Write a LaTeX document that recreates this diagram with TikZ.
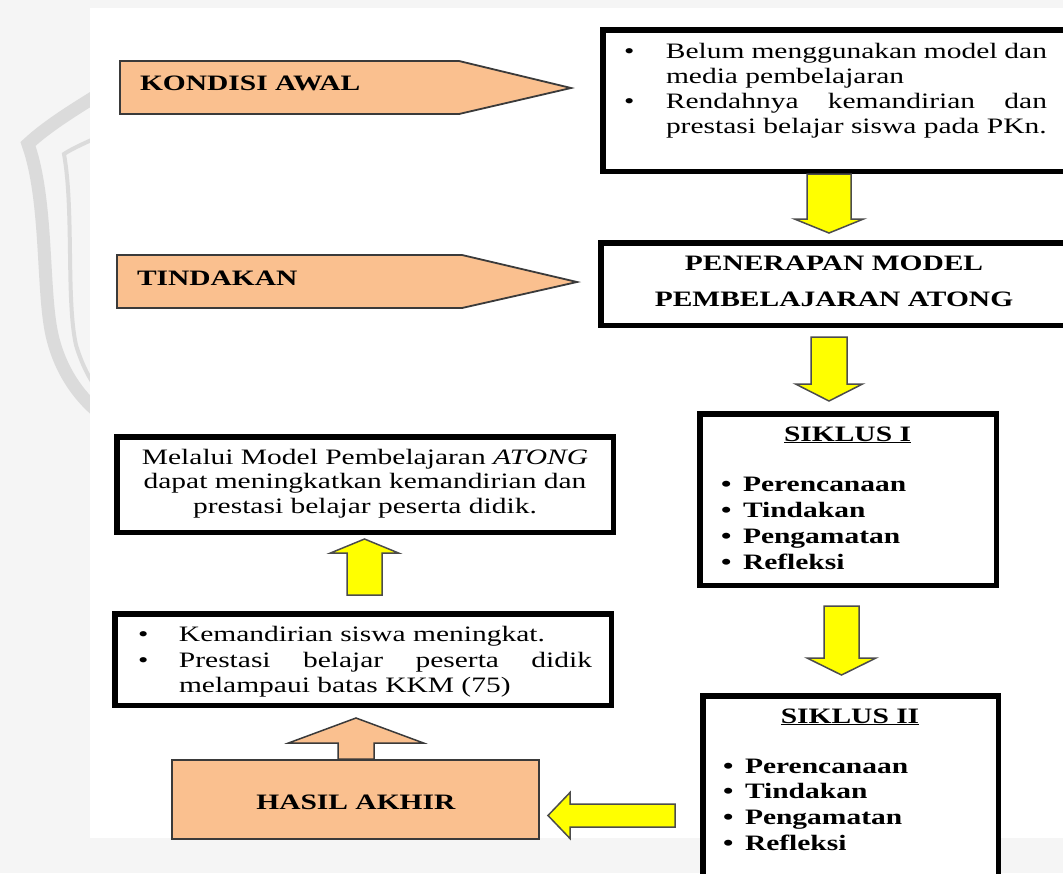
\documentclass[tikz,border=0pt]{standalone}
\usepackage{fontspec}
\setmainfont{Liberation Serif}[FakeStretch=1.34]
\usetikzlibrary{calc}
\definecolor{peach}{HTML}{FAC08F}
\definecolor{ylw}{HTML}{FFFF00}
\definecolor{edgec}{HTML}{3A3A3A}
\tolerance=9999 \hbadness=10000 \hyphenpenalty=10000 \exhyphenpenalty=10000
\newcommand\bitem[1]{\hangindent=#1\hangafter=1\noindent\makebox[#1][l]{\textbullet}}
\newcommand\blockarrow[6]{%
  \coordinate (ba-s) at #2;
  \coordinate (ba-t) at #3;
  \coordinate (ba-h) at ($(ba-t)!#6!(ba-s)$);
  \draw[#1] ($(ba-s)!#4!90:(ba-t)$) -- ($(ba-h)!#4!-90:(ba-s)$) -- ($(ba-h)!#5!-90:(ba-s)$) -- (ba-t)
    -- ($(ba-h)!#5!90:(ba-s)$) -- ($(ba-h)!#4!90:(ba-s)$) -- ($(ba-s)!#4!-90:(ba-t)$) -- cycle;}
\begin{document}
\begin{tikzpicture}[x=1pt,y=-1pt,
  bbox/.style={draw=black, line width=5.5pt, fill=white, inner sep=0pt},
  pbox/.style={draw=edgec, line width=2pt, fill=peach, inner sep=0pt},
  pent/.style={draw=edgec, line width=1.8pt, fill=peach, line join=miter},
  txt/.style={inner sep=0pt, outer sep=0pt, font=\fontsize{22}{25}\selectfont},
  yarrow/.style={draw=black!70, line width=1.5pt, fill=ylw, line join=miter},
  parrow/.style={draw=edgec, line width=1.5pt, fill=peach, line join=miter},
  wm/.style={draw=black!14, line cap=round}]
\useasboundingbox (0,0) rectangle (1063,873);
\fill[black!4] (0,0) rectangle (1063,873);
% faint watermark (left part visible)
\draw[wm, line width=13pt] (96,96) .. controls (70,112) and (45,128) .. (28,144)
  .. controls (48,200) and (42,290) .. (52,335) .. controls (60,370) and (78,395) .. (98,412);
\draw[wm, line width=4pt] (96,138) .. controls (80,145) and (70,150) .. (64,154)
  .. controls (74,210) and (66,300) .. (76,345) .. controls (82,365) and (90,380) .. (98,390);
\fill[white] (90,8) rectangle (1063,838);

% left pentagons
\draw[pent] (120,61) -- (459,61) -- (571,88) -- (459,114) -- (120,114) -- cycle;
\node[txt, anchor=base west] (tka) at (140,90) {\textbf{KONDISI AWAL}};
\draw[pent] (117,255) -- (462,255) -- (577,282) -- (462,308) -- (117,308) -- cycle;
\node[txt, anchor=base west] (tti) at (137,285) {\textbf{TINDAKAN}};

% right column boxes
\node[bbox, minimum width=464.5pt, minimum height=141.5pt] (b1) at (835,100.5) {};
\node[txt, anchor=base west, text width=423pt, align=justify] (tb1) at (624,58.5)
  {\bitem{42pt}Belum menggunakan model dan\linebreak media pembelajaran\par
   \bitem{42pt}Rendahnya kemandirian dan\linebreak prestasi belajar siswa pada PKn.\par};

\node[bbox, minimum width=466.5pt, minimum height=82.5pt] (b2) at (834,284) {};
\node[txt, anchor=base, text width=440pt, align=center, font=\fontsize{22}{35.5}\selectfont] (tb2) at (834,270.5)
  {\textbf{PENERAPAN MODEL}\\\textbf{PEMBELAJARAN ATONG}};

\node[bbox, minimum width=296.5pt, minimum height=171.5pt] (s1) at (848,499.5) {};
\node[txt, anchor=base] (ts1) at (847.5,441) {\textbf{\underline{SIKLUS I}}};
\node[txt, anchor=base west, text width=260pt, align=left, font=\fontsize{22}{26}\selectfont\bfseries] (ls1) at (721,491)
  {\makebox[22pt][l]{\textbullet}Perencanaan\\\makebox[22pt][l]{\textbullet}Tindakan\\
   \makebox[22pt][l]{\textbullet}Pengamatan\\\makebox[22pt][l]{\textbullet}Refleksi};

\node[bbox, minimum width=295.5pt, minimum height=201.5pt] (s2) at (850.5,796.5) {};
\node[txt, anchor=base] (ts2) at (850,723) {\textbf{\underline{SIKLUS II}}};
\node[txt, anchor=base west, text width=260pt, align=left, font=\fontsize{22}{25.7}\selectfont\bfseries] (ls2) at (723,773)
  {\makebox[22pt][l]{\textbullet}Perencanaan\\\makebox[22pt][l]{\textbullet}Tindakan\\
   \makebox[22pt][l]{\textbullet}Pengamatan\\\makebox[22pt][l]{\textbullet}Refleksi};

% left column boxes
\node[bbox, minimum width=496.5pt, minimum height=95.5pt] (m) at (365,484.5) {};
\node[txt, anchor=base, text width=480pt, align=center, font=\fontsize{22}{24.5}\selectfont] (tm) at (365,464)
  {Melalui Model Pembelajaran \textit{ATONG}\\dapat meningkatkan kemandirian dan\\prestasi belajar peserta didik.};

\node[bbox, minimum width=496.5pt, minimum height=91.5pt] (k) at (363,659.5) {};
\node[txt, anchor=base west, text width=454pt, align=justify, font=\fontsize{22}{25.5}\selectfont] (tk) at (138,641.7)
  {\bitem{41pt}Kemandirian siswa meningkat.\par
   \bitem{41pt}Prestasi belajar peserta didik\linebreak melampaui batas KKM (75)\par};

\node[pbox, minimum width=367pt, minimum height=79pt] (h) at (355.5,799.5) {};
\node[txt, anchor=base] (th) at (356,809) {\textbf{HASIL AKHIR}};

% connectors (block arrows)
\coordinate (xa1) at (829,0);
\coordinate (xa3) at (841.5,0);
\coordinate (ya4) at (0,815.5);
\coordinate (xa5) at (356,0);
\coordinate (xa6) at (364.5,0);
\blockarrow{yarrow}{(xa1 |- b1.south)}{($(xa1 |- b2.north)+(0,-7)$)}{22pt}{34.5pt}{14pt}
\blockarrow{yarrow}{($(xa1 |- b2.south)+(0,9)$)}{($(xa1 |- s1.north)+(0,-10)$)}{18pt}{33.5pt}{17pt}
\blockarrow{yarrow}{($(xa3 |- s1.south)+(0,18)$)}{($(xa3 |- s2.north)+(0,-18)$)}{17.5pt}{34.5pt}{17pt}
\blockarrow{yarrow}{($(s2.west |- ya4)+(-25,0)$)}{($(h.east |- ya4)+(8,0)$)}{11.5pt}{23pt}{22pt}
\blockarrow{parrow}{(xa5 |- h.north)}{($(xa5 |- k.south)+(0,10)$)}{18pt}{67.5pt}{25pt}
\blockarrow{yarrow}{($(xa6 |- k.north)+(0,-16)$)}{($(xa6 |- m.south)+(0,4)$)}{17.5pt}{34pt}{14pt}
\end{tikzpicture}
\end{document}
